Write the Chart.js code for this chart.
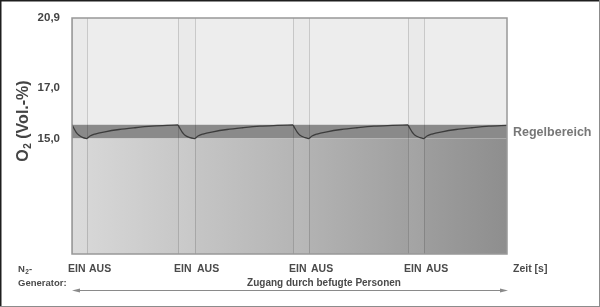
<!DOCTYPE html>
<html lang="de">
<head>
    <meta charset="UTF-8">
    <title>O2-Regelbereich</title>
    <style>
        body {
            margin: 0;
            background-color: white;
        }
        #diagramm {
            display: block;
        }
    </style>
</head>
<body>
    <canvas id="diagramm" width="600" height="307"></canvas>

    <script src="https://cdn.jsdelivr.net/npm/chart.js@4"></script>

    <script>
        // Zeitpunkte (schematisch) für Generator EIN / AUS
        const einZeiten = [0, 106, 221, 336];
        const ausZeiten = [15, 123, 237, 352];
        const zeitEnde = 435;

        // O2-Achse
        const o2Ticks = [15.0, 17.0, 20.9];
        const o2Unten = 10;
        const regelMin = 15.0;
        const regelMax = 15.55;

        // O2-Verlauf, je Abschnitt (Abfall nach EIN, Anstieg nach AUS)
        const abfall1 = [[0, 15.55], [2, 15.40], [4, 15.26], [7, 15.13], [11, 15.04], [15, 15.0]];
        const anstieg1 = [[15, 15.0], [18, 15.1], [23, 15.18], [33, 15.27], [47, 15.36], [63, 15.43], [80, 15.49], [95, 15.52], [106, 15.54]];
        const abfall2 = [[106, 15.54], [108, 15.40], [110, 15.27], [113, 15.13], [118, 15.04], [123, 15.0]];
        const anstieg2 = [[123, 15.0], [126, 15.1], [131, 15.18], [141, 15.27], [155, 15.36], [171, 15.43], [188, 15.49], [205, 15.52], [221, 15.54]];
        const abfall3 = [[221, 15.54], [223, 15.40], [225, 15.27], [228, 15.13], [233, 15.04], [237, 15.0]];
        const anstieg3 = [[237, 15.0], [240, 15.1], [245, 15.18], [255, 15.27], [269, 15.36], [285, 15.43], [302, 15.49], [320, 15.52], [336, 15.54]];
        const abfall4 = [[336, 15.54], [338, 15.40], [340, 15.27], [343, 15.13], [348, 15.04], [352, 15.0]];
        const anstieg4 = [[352, 15.0], [355, 15.1], [360, 15.18], [370, 15.27], [384, 15.36], [400, 15.43], [417, 15.49], [435, 15.52]];

        const abschnitte = [abfall1, anstieg1, abfall2, anstieg2, abfall3, anstieg3, abfall4, anstieg4];

        // Abschnitte mit Lücken verbinden, damit an EIN/AUS ein Knick entsteht
        const verlauf = [];
        abschnitte.forEach((abschnitt, i) => {
            if (i > 0) verlauf.push({ x: abschnitt[0][0], y: null });
            abschnitt.forEach(p => verlauf.push({ x: p[0], y: p[1] }));
        });

        // Schematische (nicht lineare) O2-Skala wie im Original
        const ankerWerte = [o2Unten, ...o2Ticks];
        const ankerAnteile = [0, 0.489, 0.703, 1];

        function anteilFuerWert(v) {
            for (let i = 1; i < ankerWerte.length; i++) {
                if (v <= ankerWerte[i] || i === ankerWerte.length - 1) {
                    const a = ankerWerte[i - 1], b = ankerWerte[i];
                    return ankerAnteile[i - 1] + (v - a) / (b - a) * (ankerAnteile[i] - ankerAnteile[i - 1]);
                }
            }
            return NaN;
        }

        function wertFuerAnteil(f) {
            for (let i = 1; i < ankerAnteile.length; i++) {
                if (f <= ankerAnteile[i] || i === ankerAnteile.length - 1) {
                    const a = ankerAnteile[i - 1], b = ankerAnteile[i];
                    return ankerWerte[i - 1] + (f - a) / (b - a) * (ankerWerte[i] - ankerWerte[i - 1]);
                }
            }
            return NaN;
        }

        class SchemaSkala extends Chart.LinearScale {
            getPixelForValue(v) {
                return this.bottom - anteilFuerWert(v) * (this.bottom - this.top);
            }
            getValueForPixel(p) {
                return wertFuerAnteil((this.bottom - p) / (this.bottom - this.top));
            }
        }
        SchemaSkala.id = 'schema';
        SchemaSkala.defaults = Chart.LinearScale.defaults;
        Chart.register(SchemaSkala);

        const schrift = '"Liberation Sans", Arial, sans-serif';

        function flaeche(wert) {
            return [{ x: 0, y: wert }, { x: zeitEnde, y: wert }];
        }

        // EIN/AUS-Linien und Streifen hinter dem Verlauf
        const linienPlugin = {
            id: 'linien',
            beforeDatasetDraw(chart, args) {
                if (args.index !== 3) return;
                const ctx = chart.ctx;
                const a = chart.chartArea;
                const xs = chart.scales.x;
                const ys = chart.scales.y;
                const yOben = ys.getPixelForValue(regelMax);
                const yUnten = ys.getPixelForValue(regelMin);
                ctx.save();
                einZeiten.forEach((t, i) => {
                    const x1 = xs.getPixelForValue(t);
                    const x2 = xs.getPixelForValue(ausZeiten[i]);
                    ctx.fillStyle = 'rgba(0,0,0,0.012)';
                    ctx.fillRect(x1, a.top, x2 - x1, yOben - a.top);
                    ctx.fillStyle = 'rgba(255,255,255,0.06)';
                    ctx.fillRect(x1, yUnten, x2 - x1, a.bottom - yUnten);
                });
                ctx.strokeStyle = 'rgba(0,0,0,0.15)';
                ctx.lineWidth = 1;
                [...einZeiten, ...ausZeiten].forEach(t => {
                    const x = Math.round(xs.getPixelForValue(t)) + 0.5;
                    ctx.beginPath();
                    ctx.moveTo(x, a.top);
                    ctx.lineTo(x, a.bottom);
                    ctx.stroke();
                });
                ctx.restore();
            }
        };

        function textMitIndex(ctx, x, y, vor, index, nach, groesse, indexGroesse, versatz) {
            ctx.font = 'bold ' + groesse + 'px ' + schrift;
            ctx.fillText(vor, x, y);
            x += ctx.measureText(vor).width;
            ctx.font = 'bold ' + indexGroesse + 'px ' + schrift;
            ctx.fillText(index, x + 0.5, y + versatz);
            x += ctx.measureText(index).width + 0.5;
            ctx.font = 'bold ' + groesse + 'px ' + schrift;
            ctx.fillText(nach, x, y);
        }

        function breiteMitIndex(ctx, vor, index, nach, groesse, indexGroesse) {
            ctx.font = 'bold ' + groesse + 'px ' + schrift;
            let w = ctx.measureText(vor).width + ctx.measureText(nach).width + 0.5;
            ctx.font = 'bold ' + indexGroesse + 'px ' + schrift;
            return w + ctx.measureText(index).width;
        }

        // Beschriftungen, Rahmen und Pfeil
        const textPlugin = {
            id: 'texte',
            afterDraw(chart) {
                const ctx = chart.ctx;
                const a = chart.chartArea;
                const xs = chart.scales.x;
                const ys = chart.scales.y;
                ctx.save();

                // Rahmen um den Plotbereich
                ctx.strokeStyle = '#989898';
                ctx.lineWidth = 1.5;
                ctx.strokeRect(a.left, a.top, a.right - a.left, a.bottom - a.top);

                // Achsentitel
                ctx.save();
                ctx.translate(28, 121);
                ctx.rotate(-Math.PI / 2);
                ctx.fillStyle = '#444';
                ctx.textBaseline = 'alphabetic';
                const tw = breiteMitIndex(ctx, 'O', '2', ' (Vol.-%)', 16, 10);
                textMitIndex(ctx, -tw / 2, 0, 'O', '2', ' (Vol.-%)', 16, 10, 3);
                ctx.restore();

                // Regelbereich
                ctx.fillStyle = '#777';
                ctx.textBaseline = 'middle';
                ctx.font = 'bold 12.5px ' + schrift;
                const yBand = (ys.getPixelForValue(regelMin) + ys.getPixelForValue(regelMax)) / 2;
                ctx.fillText('Regelbereich', a.right + 6, yBand + 1);

                // N2-Generator
                ctx.fillStyle = '#4a4a4a';
                ctx.textBaseline = 'alphabetic';
                textMitIndex(ctx, 18, 272, 'N', '2', '-', 9.5, 6.5, 2);
                ctx.font = 'bold 9.5px ' + schrift;
                ctx.fillText('Generator:', 18, 286);

                // EIN / AUS
                ctx.font = 'bold 10.5px ' + schrift;
                einZeiten.forEach((t, i) => {
                    ctx.fillText('EIN', xs.getPixelForValue(t) - 4, 272);
                    ctx.fillText('AUS', xs.getPixelForValue(ausZeiten[i]) + 2, 272);
                });
                ctx.fillText('Zeit [s]', a.right + 6, 272);

                ctx.font = 'bold 10px ' + schrift;
                ctx.textAlign = 'center';
                ctx.fillText('Zugang durch befugte Personen', 324, 286);
                ctx.textAlign = 'left';

                // Doppelpfeil
                const yP = 290.5;
                const x1 = a.left, x2 = a.right + 1;
                ctx.strokeStyle = '#8a8a8a';
                ctx.fillStyle = '#8a8a8a';
                ctx.lineWidth = 1;
                ctx.beginPath();
                ctx.moveTo(x1 + 3, yP);
                ctx.lineTo(x2 - 3, yP);
                ctx.stroke();
                ctx.beginPath();
                ctx.moveTo(x1, yP);
                ctx.lineTo(x1 + 8, yP - 2);
                ctx.lineTo(x1 + 8, yP + 2);
                ctx.closePath();
                ctx.fill();
                ctx.beginPath();
                ctx.moveTo(x2, yP);
                ctx.lineTo(x2 - 8, yP - 2);
                ctx.lineTo(x2 - 8, yP + 2);
                ctx.closePath();
                ctx.fill();

                // Bildrahmen
                ctx.fillStyle = '#1e1e1e';
                ctx.fillRect(0, 0, 600, 1.5);
                ctx.fillRect(0, 0, 1.5, 307);
                ctx.fillStyle = '#8c8c8c';
                ctx.fillRect(599, 0, 1, 307);
                ctx.fillRect(0, 306, 600, 1);

                ctx.restore();
            }
        };

        const ctx = document.getElementById('diagramm').getContext('2d');
        const diagramm = new Chart(ctx, {
            type: 'line',
            data: {
                datasets: [
                    {
                        label: 'Unterhalb',
                        data: flaeche(regelMin),
                        order: 1,
                        fill: 'start',
                        borderWidth: 0,
                        pointRadius: 0,
                        backgroundColor: (c) => {
                            const a = c.chart.chartArea;
                            if (!a) return '#b8b8b8';
                            const g = c.chart.ctx.createLinearGradient(a.left, 0, a.right, 0);
                            g.addColorStop(0, '#d9d9d9');
                            g.addColorStop(0.5, '#b6b6b6');
                            g.addColorStop(1, '#8e8e8e');
                            return g;
                        }
                    },
                    {
                        label: 'Regelbereich',
                        data: flaeche(regelMax),
                        order: 1,
                        fill: '-1',
                        borderWidth: 0,
                        pointRadius: 0,
                        backgroundColor: '#8a8a8a'
                    },
                    {
                        label: 'Oberhalb',
                        data: flaeche(o2Ticks[o2Ticks.length - 1]),
                        order: 1,
                        fill: '-1',
                        borderWidth: 0,
                        pointRadius: 0,
                        backgroundColor: '#ededed'
                    },
                    {
                        label: 'O2',
                        data: verlauf,
                        order: 0,
                        fill: false,
                        borderColor: '#3c3c3c',
                        borderWidth: 1.3,
                        pointRadius: 0,
                        cubicInterpolationMode: 'monotone',
                        spanGaps: false
                    }
                ]
            },
            options: {
                responsive: false,
                animation: false,
                layout: {
                    padding: { left: 0, right: 93, top: 18, bottom: 53 }
                },
                plugins: {
                    legend: { display: false },
                    tooltip: { enabled: false }
                },
                scales: {
                    x: {
                        type: 'linear',
                        min: 0,
                        max: zeitEnde,
                        display: false
                    },
                    y: {
                        type: 'schema',
                        min: o2Unten,
                        max: o2Ticks[o2Ticks.length - 1],
                        afterBuildTicks: (s) => {
                            s.ticks = o2Ticks.map(v => ({ value: v }));
                        },
                        afterFit: (s) => {
                            s.width = 72;
                        },
                        grid: { display: false },
                        border: { display: false },
                        ticks: {
                            color: '#444',
                            padding: 4,
                            font: { family: schrift, size: 11.5, weight: 'bold' },
                            callback: (v) => Number(v).toFixed(1).replace('.', ',')
                        }
                    }
                }
            },
            plugins: [linienPlugin, textPlugin]
        });
    </script>
</body>
</html>
